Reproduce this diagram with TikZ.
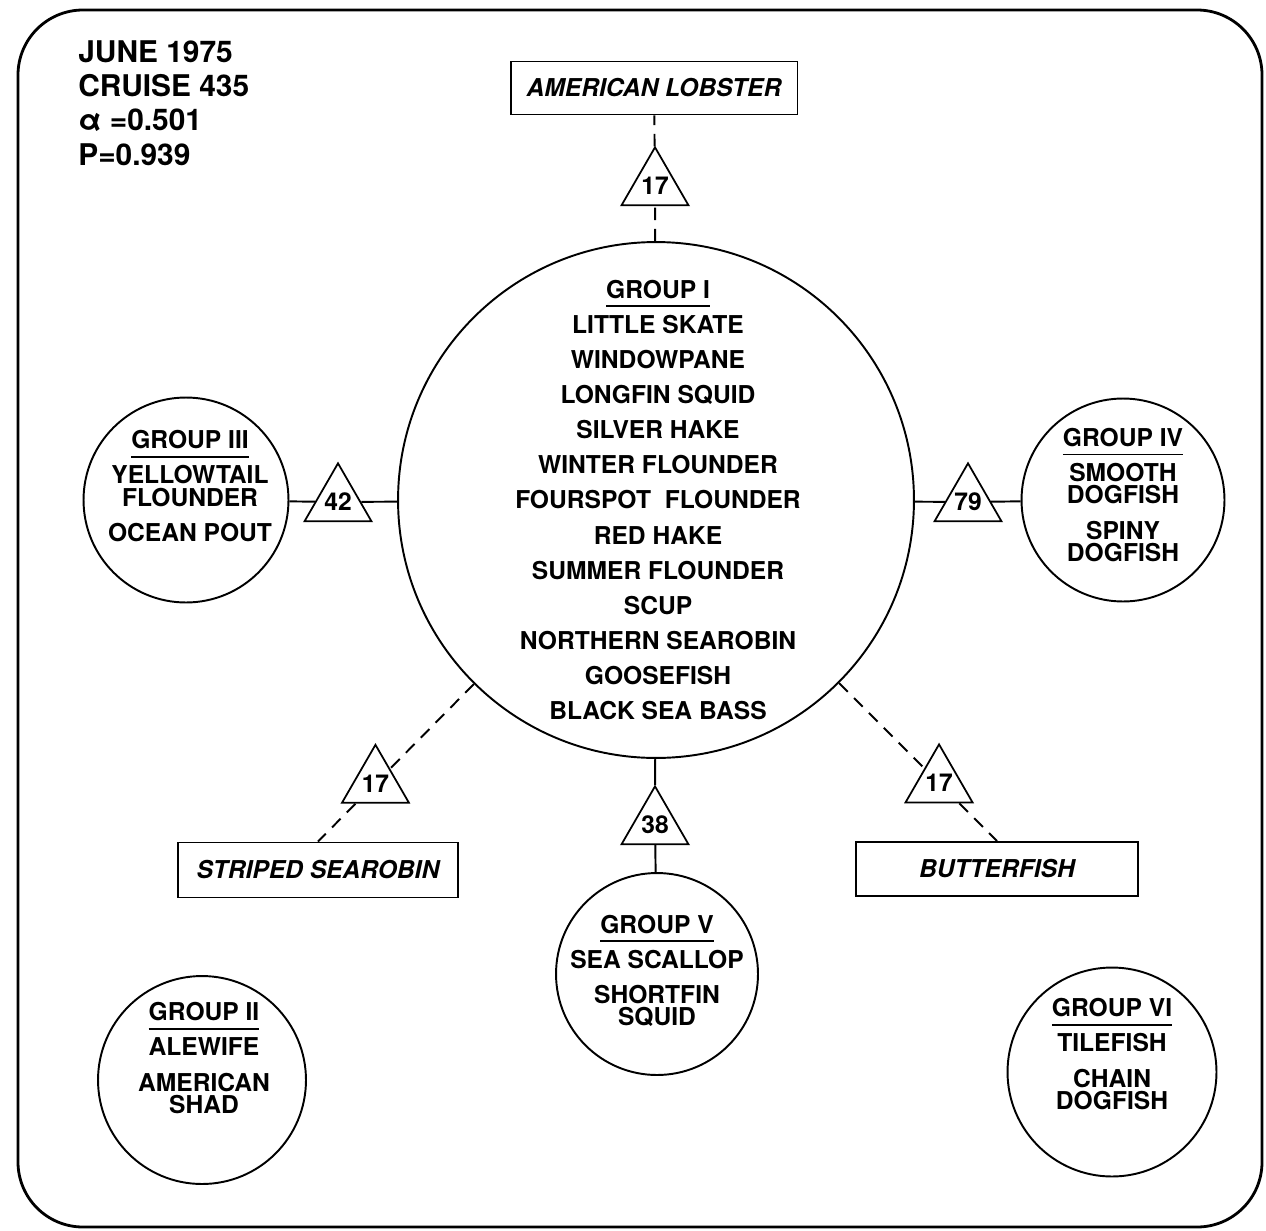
\documentclass[tikz,border=0pt]{standalone}
\usepackage{fontspec}
\setmainfont{TeX Gyre Heros}
\usepackage{tikz}
\usetikzlibrary{calc,positioning,shapes.geometric}
% underlined group title
\newcommand{\grp}[1]{\setbox0\hbox{#1}\rlap{\smash{\rule[-5pt]{\wd0}{1pt}}}\box0}
\tikzset{%
  % Specifications for style of nodes:
  base/.style = {font=\fontsize{14}{20}\selectfont\bfseries,
    align=center, inner sep=0pt},
  group/.style = {circle, draw=black, line width=1.1pt, inner sep=0pt},
  species/.style = {base},
  loner/.style = {rectangle, draw=black, line width=1.1pt,
    font=\fontsize{14}{20}\selectfont\bfseries\itshape, align=center},
  weight/.style = {regular polygon, regular polygon sides=3, draw=black,
    line width=1pt, minimum size=1.39cm, inner sep=0pt,
    font=\fontsize{14}{16}\selectfont\bfseries},
  header/.style = {font=\fontsize{17}{19.6}\selectfont\bfseries,
    align=left, inner sep=0pt},
  link/.style = {line width=1.1pt},
  looselink/.style = {link, dash pattern=on 7pt off 5pt},
}

\begin{document}
\begin{tikzpicture}[x=0.02cm, y=-0.02cm]
        \useasboundingbox (0,0) rectangle (1266,1230);
        % frame
        \draw[line width=1.6pt, rounded corners=1.3cm] (18,10) rectangle (1262,1227);
        \node[header, anchor=north west] (Info) at (78,40) {JUNE 1975\\CRUISE 435\\α =0.501\\P=0.939};
        % Specification of groups (position, etc.)
        \node(GrpI)[group, minimum size=10.32cm] at (656,500) {};
        \node(TxtI)[species] at (658,500) {\grp{GROUP I}\\ LITTLE SKATE\\ WINDOWPANE\\
          LONGFIN SQUID\\ SILVER HAKE\\ WINTER FLOUNDER\\ FOURSPOT\ \ FLOUNDER\\
          RED HAKE\\ SUMMER FLOUNDER\\ SCUP\\ NORTHERN SEAROBIN\\ GOOSEFISH\\
          BLACK SEA BASS};
        \node(GrpIII)[group, minimum size=4.1cm] at (186,500) {};
        \node(TxtIII)[species] at (190,486) {\grp{GROUP III}\\ YELLOWTAIL\\[-0.26cm]
          FLOUNDER\\ OCEAN POUT};
        \node(GrpIV)[group, minimum size=4.06cm] at (1123,500) {};
        \node(TxtIV)[species] at (1123,495) {\grp{GROUP IV}\\ SMOOTH\\[-0.26cm] DOGFISH\\
          SPINY\\[-0.26cm] DOGFISH};
        \node(GrpV)[group, minimum size=4.04cm] at (657,974) {};
        \node(TxtV)[species] at (657,971) {\grp{GROUP V}\\ SEA SCALLOP\\ SHORTFIN\\[-0.26cm] SQUID};
        \node(GrpII)[group, minimum size=4.16cm] at (202,1080) {};
        \node(TxtII)[species] at (204,1058) {\grp{GROUP II}\\ ALEWIFE\\ AMERICAN\\[-0.26cm] SHAD};
        \node(GrpVI)[group, minimum size=4.18cm] at (1112,1072) {};
        \node(TxtVI)[species] at (1112,1054) {\grp{GROUP VI}\\ TILEFISH\\ CHAIN\\[-0.26cm] DOGFISH};
        % single species
        \node(Lobster)[loner, minimum width=5.74cm, minimum height=1.06cm] at (654,88) {AMERICAN LOBSTER};
        \node(Searobin)[loner, minimum width=5.6cm, minimum height=1.1cm] at (318,870) {STRIPED SEAROBIN};
        \node(Butter)[loner, minimum width=5.64cm, minimum height=1.08cm] at (997,869) {BUTTERFISH};
        % weights
        \node(TriLob)[weight] at (655,186) {17};
        \node(TriIII)[weight] at (338,502) {42};
        \node(TriIV)[weight] at (968,502) {79};
        \node(TriV)[weight] at (655,825) {38};
        \node(TriSea)[weight] at ($(GrpI)!0.83!(Searobin.north)$) {17};
        \node(TriBut)[weight] at ($(GrpI)!0.83!(Butter.north)$) {17};
        \draw[link](GrpIII) -- (TriIII) -- (GrpI);
        \draw[link](GrpI) -- (TriIV) -- (GrpIV);
        \draw[link](GrpI) -- (TriV) -- (GrpV);
        \draw[looselink](GrpI) -- (TriLob) -- (Lobster);
        \draw[looselink](GrpI) -- (TriSea) -- (Searobin.north);
        \draw[looselink](GrpI) -- (TriBut) -- (Butter.north);
    \end{tikzpicture}
\end{document}
